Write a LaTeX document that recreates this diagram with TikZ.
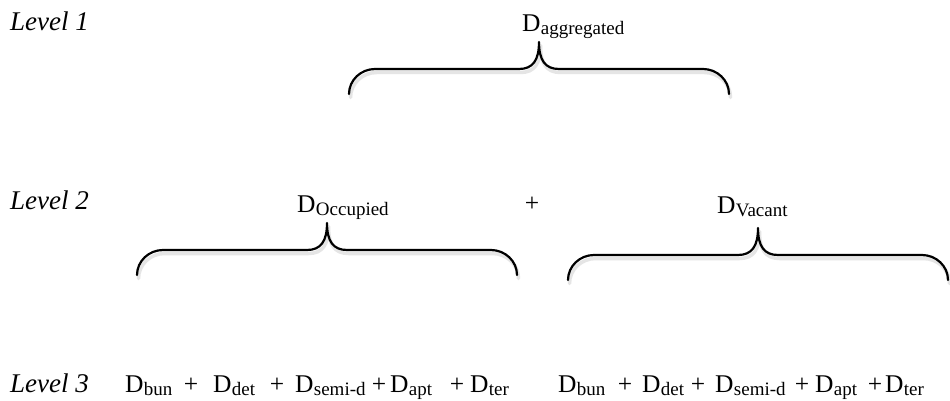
\documentclass[tikz,border=0pt]{standalone}
\usepackage{fontspec}
\setmainfont{Liberation Serif}
\newcommand{\DS}[1]{D\kern0.3pt\raisebox{-3pt}{\fontsize{19}{21}\selectfont #1}}
\newcommand{\CurlyBrace}[4]{%
  \draw[#4,shift={(#1,#2)}] (-#3,52) .. controls (-#3,38) and (-#3+12,27) .. (-#3+26,27)
    -- (-20,27) .. controls (-6,27) and (0,18) .. (0,0)
    .. controls (0,18) and (6,27) .. (20,27)
    -- (#3-26,27) .. controls (#3-12,27) and (#3,38) .. (#3,52);}
\begin{document}
\begin{tikzpicture}[x=1pt,y=-1pt,
  lvl/.style={anchor=base west, inner sep=0pt, font=\fontsize{27}{30}\selectfont\itshape},
  term/.style={anchor=base west, inner sep=0pt, font=\fontsize{25.5}{28}\selectfont},
  plus/.style={anchor=base, inner sep=0pt, font=\fontsize{25.5}{28}\selectfont},
  bracestyle/.style={line width=2.2pt, line cap=round, line join=round},
  braceshadow/.style={line width=3.5pt, black!10, line cap=round, line join=round, shift={(1.5,3.5)}}]
\useasboundingbox[fill=white] (0,0) rectangle (950,401);

% level labels
\node[lvl] (l1) at (10,31) {Level 1};
\node[lvl] (l2) at (10,209.5) {Level 2};
\node[lvl] (l3) at (10,392) {Level 3};

% level 1
\node[term] (agg) at (522,32) {\DS{aggregated}};

% level 2
\node[term] (occ) at (297,212) {\DS{Occupied}};
\node[plus] (p2) at (532,211) {+};
\node[term] (vac) at (717,213) {\DS{Vacant}};

% level 3 left
\node[term] (a1) at (125,392) {\DS{bun}};
\node[plus] (ap1) at (191,392) {+};
\node[term] (a2) at (213,392) {\DS{det}};
\node[plus] (ap2) at (277,392) {+};
\node[term] (a3) at (295,392) {\DS{semi-d}};
\node[plus] (ap3) at (379,392) {+};
\node[term] (a4) at (390,392) {\DS{apt}};
\node[plus] (ap4) at (457,392) {+};
\node[term] (a5) at (470,392) {\DS{ter}};

% level 3 right
\node[term] (b1) at (558,392) {\DS{bun}};
\node[plus] (bp1) at (625,392) {+};
\node[term] (b2) at (642,392) {\DS{det}};
\node[plus] (bp2) at (698,392) {+};
\node[term] (b3) at (715,392) {\DS{semi-d}};
\node[plus] (bp3) at (802,392) {+};
\node[term] (b4) at (815,392) {\DS{apt}};
\node[plus] (bp4) at (875,392) {+};
\node[term] (b5) at (885,392) {\DS{ter}};

% braces (shadows first)
\CurlyBrace{539}{42}{190}{braceshadow}
\CurlyBrace{327}{223}{190}{braceshadow}
\CurlyBrace{758}{228}{190}{braceshadow}
\CurlyBrace{539}{42}{190}{bracestyle}
\CurlyBrace{327}{223}{190}{bracestyle}
\CurlyBrace{758}{228}{190}{bracestyle}
\end{tikzpicture}
\end{document}
